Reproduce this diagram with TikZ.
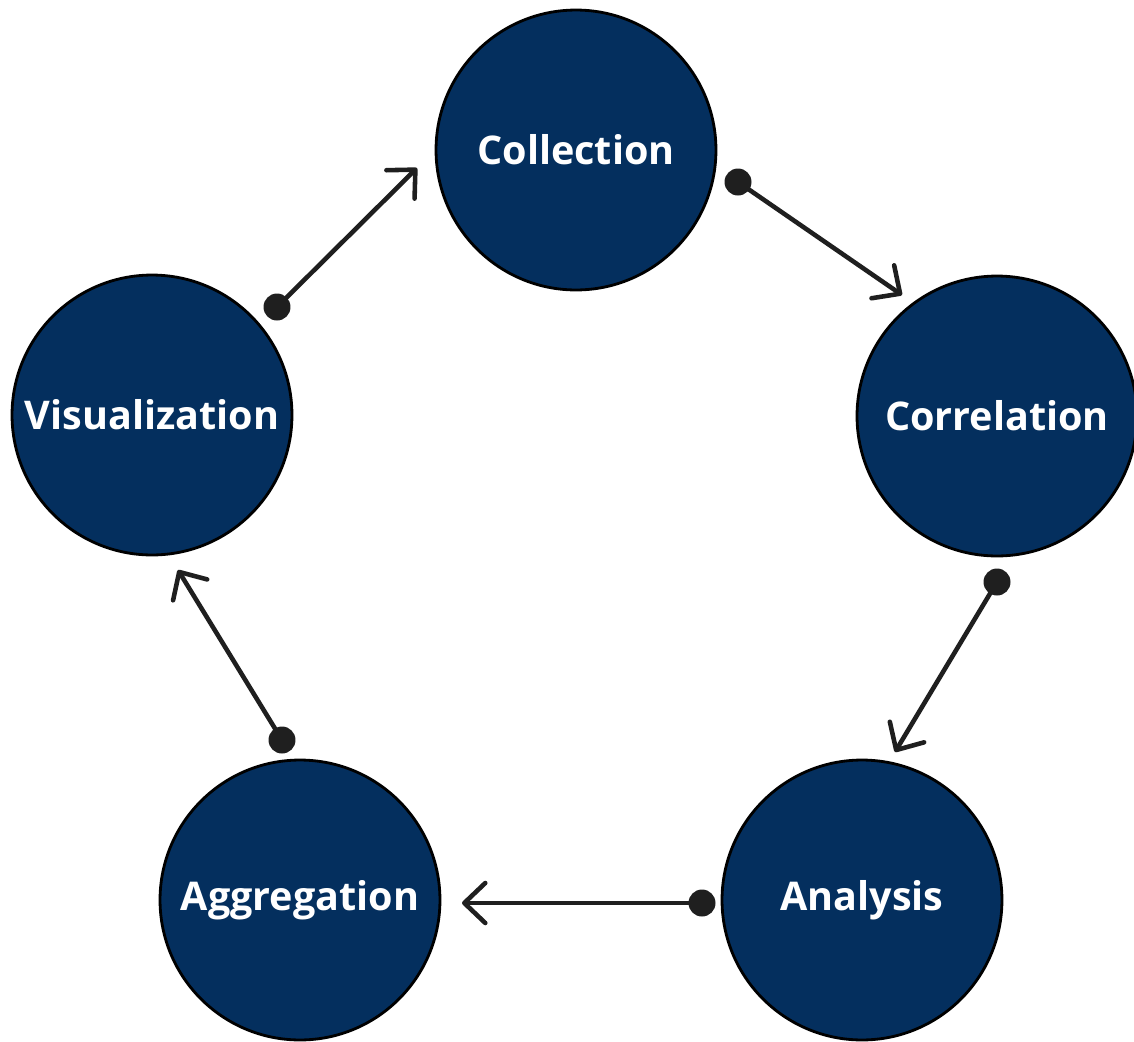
\documentclass[tikz,border=0pt]{standalone}
\usepackage{fontspec}
\setmainfont{Open Sans}
\usetikzlibrary{arrows.meta}
\definecolor{stagenavy}{RGB}{4,47,94}

\tikzstyle{stage} = [circle, draw=black, line width=1.6pt, fill=stagenavy, text=white, minimum size=5.6cm, inner sep=0pt, font=\fontsize{22.5}{27}\selectfont\bfseries]

\begin{document}
\begin{tikzpicture}[x=0.02cm, y=-0.02cm, >={Straight Barb[length=0.42cm, width=0.8cm, line width=2.6pt, round]}]
	\tikzstyle{joint}=[circle, fill=black!88, minimum size=0.54cm, inner sep=0pt]
	\tikzstyle{flow}=[->, draw=black!88, line width=2.6pt]
  \useasboundingbox (0,0) rectangle (1134,1042);
    \node [stage] (coll) at (576,150) {Collection};
    \node [stage] (corr) at (997,416) {Correlation};
    \node [stage] (anal) at (862,900) {Analysis};
    \node [stage] (aggr) at (300,900) {Aggregation};
    \node [stage] (visu) at (152,415) {Visualization};
    \node [joint] (coll-out) at (738,182) {};
    \node [joint] (corr-out) at (997,582) {};
    \node [joint] (anal-out) at (702,903) {};
    \node [joint] (aggr-out) at (282,740) {};
    \node [joint] (visu-out) at (277,307) {};
    \coordinate (corr-in) at (902,295);
    \coordinate (anal-in) at (895,752);
    \coordinate (aggr-in) at (462,903);
    \coordinate (visu-in) at (178,570);
    \coordinate (coll-in) at (417,168);
\draw[flow] (coll-out.center) -- (corr-in);
\draw[flow] (corr-out.center) -- (anal-in);
\draw[flow] (anal-out.center) -- (aggr-in);
\draw[flow] (aggr-out.center) -- (visu-in);
\draw[flow] (visu-out.center) -- (coll-in);
\end{tikzpicture}
\end{document}
